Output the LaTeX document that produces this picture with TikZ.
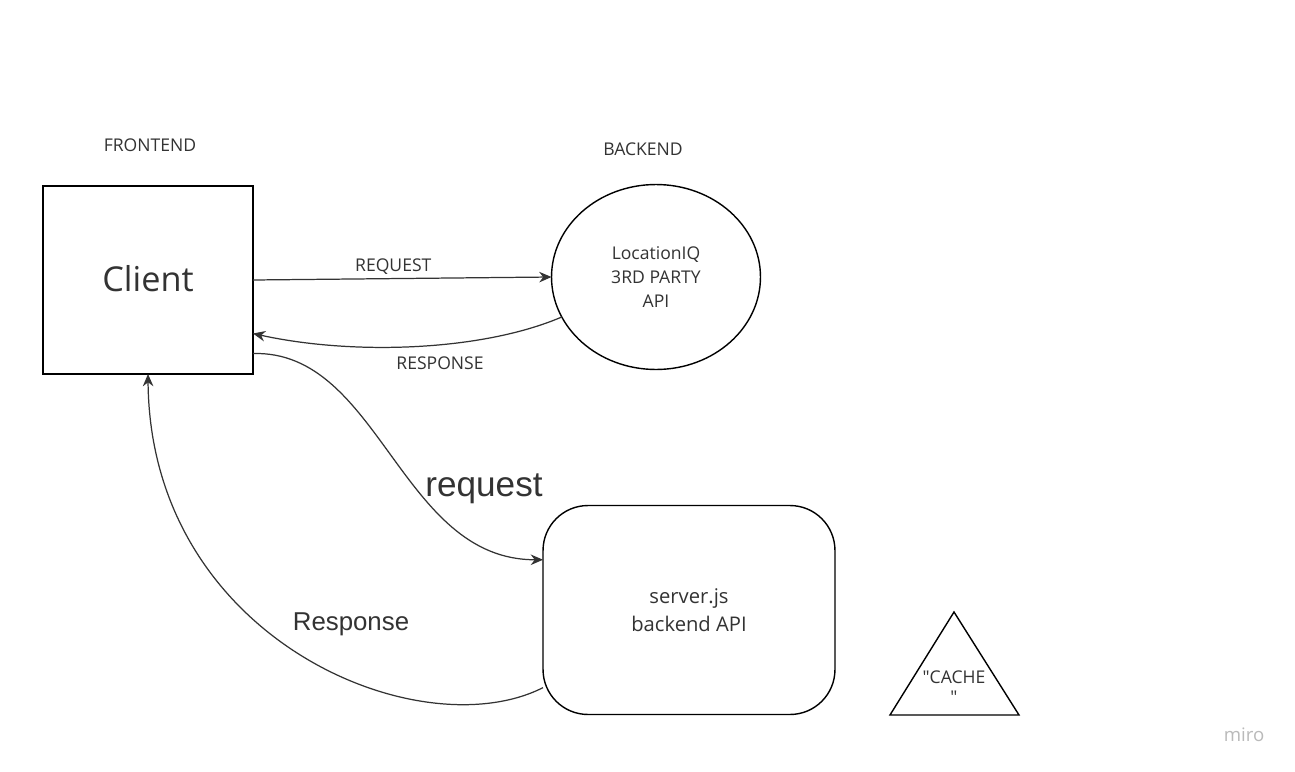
\documentclass[tikz,border=0pt]{standalone}
\usepackage{fontspec}
\setmainfont{Open Sans}
\newfontfamily\arialfont{Liberation Sans}
\usetikzlibrary{arrows.meta,shapes.geometric}
\definecolor{InkGray}{HTML}{333333}
\tikzset{
  BoxStyle/.style = {draw=black, line width=0.8pt, outer sep=0pt, inner sep=0pt, align=center, text=InkGray},
  EdgeStyle/.style = {draw=InkGray, line width=0.7pt, -{Stealth[length=7pt,width=6pt]}},
  LabelStyle/.style = {text=InkGray, font=\fontsize{10}{12}\selectfont}
}
\begin{document}
\begin{tikzpicture}[x=0.02cm,y=-0.02cm]
  \fill[white] (0,0) rectangle (1295,771);
  \useasboundingbox (0,0) rectangle (1295,771);
  % titles
  \node[LabelStyle] (front) at (150,145) {FRONTEND};
  \node[LabelStyle] (back) at (643,149) {BACKEND};
  % boxes
  \node[BoxStyle, minimum width=4.2cm, minimum height=3.76cm,
    font=\fontsize{19.5}{22}\selectfont] (client) at (148,280) {\raisebox{2pt}{Client}};
  \node[BoxStyle, ellipse, minimum width=4.18cm, minimum height=3.7cm,
    font=\fontsize{10}{13.6}\selectfont] (api) at (656,277) {LocationIQ\\3RD PARTY\\API};
  \node[BoxStyle, rounded corners=0.9cm, minimum width=5.84cm, minimum height=4.18cm,
    font=\fontsize{11.5}{15.9}\selectfont] (server) at (689,610) {server.js\\backend API};
  \draw[line width=0.8pt] (890,715) coordinate (c1) -- (954,612) coordinate (c2)
    -- (1019,715) coordinate (c3) -- cycle;
  \node[LabelStyle, align=center, font=\fontsize{10}{11.3}\selectfont] (cache) at (954,687)
    {\textquotedbl CACHE\\\textquotedbl};
  % connectors
  \draw[EdgeStyle] (client.east) -- (api.west)
    node[LabelStyle, pos=0.47, above=-1.5pt] (req) {REQUEST};
  \draw[EdgeStyle] (api.203) .. controls (480,352) and (350,355) .. (client.-27.6);
  \node[LabelStyle] (resp) at (440,363) {RESPONSE};
  \draw[EdgeStyle] (client.-35.2) .. controls (380,350) and (400,560) .. (server.161.1);
  \node[text=InkGray, font=\arialfont\fontsize{20}{24}\selectfont] (req2) at (484,489) {request};
  \draw[EdgeStyle] (server.208.7) .. controls (420,750) and (150,640) .. (client.south);
  \node[text=InkGray, font=\arialfont\fontsize{14.7}{18}\selectfont] (resp2) at (351,624) {Response};
  \node[text=black!27, font=\fontsize{10.6}{12}\selectfont] (miro) at (1244,735) {miro};
\end{tikzpicture}
\end{document}
